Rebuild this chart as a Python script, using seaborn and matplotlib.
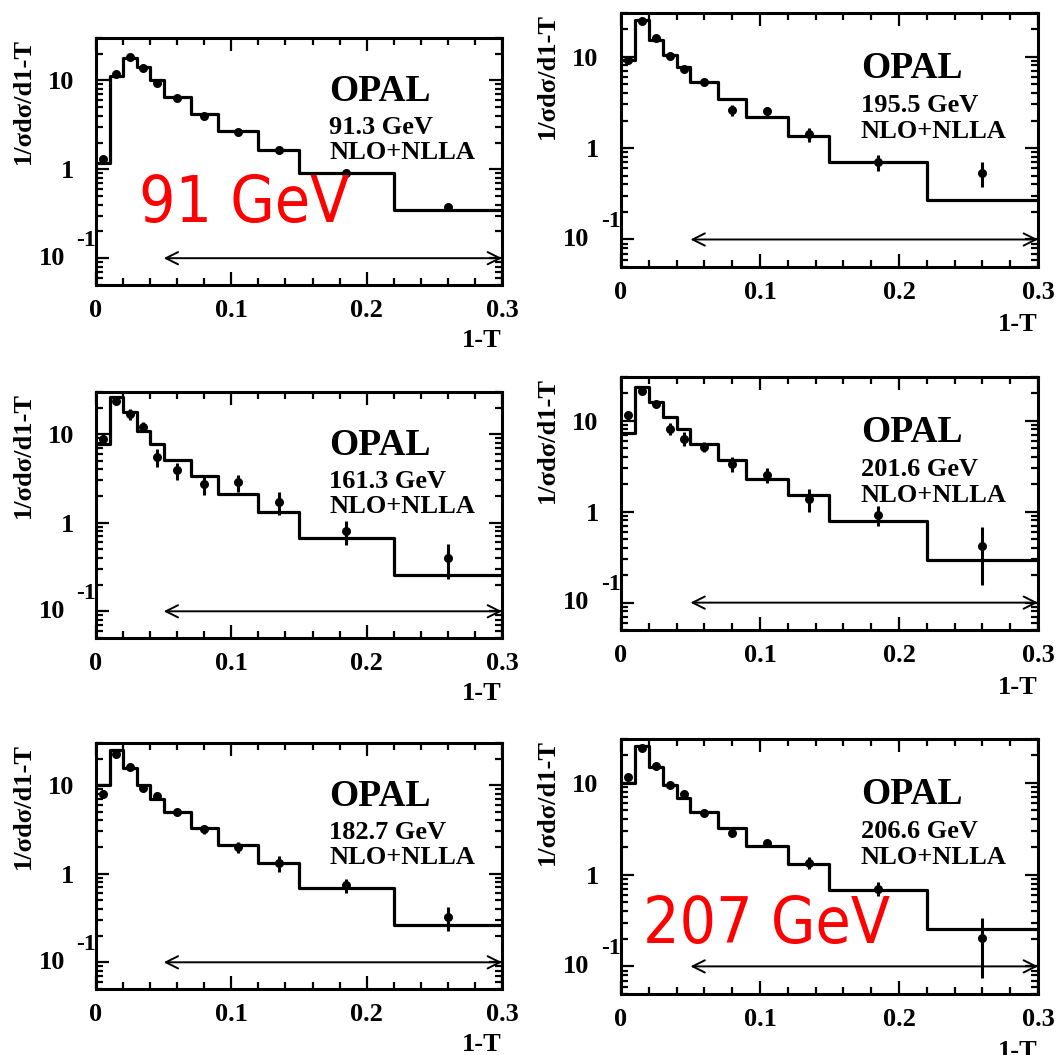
import matplotlib
matplotlib.use("Agg")
import matplotlib.pyplot as plt
import matplotlib.ticker as mticker
import seaborn as sns

# bins in 1-T (edges) and the centres where the OPAL points sit
edges = [0.0, 0.01, 0.02, 0.03, 0.04, 0.05, 0.07, 0.09, 0.12, 0.15, 0.22, 0.30]
centres = [0.005, 0.015, 0.025, 0.035, 0.045, 0.06, 0.08, 0.105, 0.135, 0.185, 0.26]

energies = ["91.3 GeV", "195.5 GeV", "161.3 GeV", "201.6 GeV", "182.7 GeV", "206.6 GeV"]

# NLO+NLLA prediction, one value per bin
theory_913 = [1.17, 11.2, 17.9, 14.1, 10.0, 6.5, 4.24, 2.69, 1.65, 0.90, 0.348]
theory_1955 = [9.1, 25.2, 15.2, 10.3, 7.7, 5.25, 3.43, 2.19, 1.37, 0.71, 0.268]
theory_1613 = [7.66, 26.5, 17.6, 10.9, 7.66, 5.17, 3.34, 2.10, 1.31, 0.675, 0.258]
theory_2016 = [7.36, 23.2, 16.1, 10.8, 8.0, 5.47, 3.67, 2.30, 1.53, 0.79, 0.297]
theory_1827 = [10.0, 24.9, 15.6, 10.0, 7.06, 4.99, 3.32, 2.11, 1.33, 0.695, 0.267]
theory_2066 = [9.9, 25.0, 14.8, 9.5, 6.91, 4.77, 3.19, 2.06, 1.30, 0.674, 0.256]

# OPAL data points and their errors
data_913 = [1.29, 11.9, 18.2, 13.9, 9.3, 6.4, 3.98, 2.64, 1.65, 0.92, 0.38]
err_913 = [0.03, 0.2, 0.3, 0.2, 0.15, 0.1, 0.06, 0.04, 0.03, 0.02, 0.01]
data_1955 = [9.1, 24.6, 16.1, 10.2, 7.24, 5.33, 2.61, 2.55, 1.41, 0.70, 0.538]
err_1955 = [0.8, 1.2, 1.0, 0.7, 0.6, 0.4, 0.35, 0.25, 0.25, 0.14, 0.16]
data_1613 = [8.89, 23.9, 16.8, 12.2, 5.55, 3.91, 2.75, 2.85, 1.73, 0.80, 0.403]
err_1613 = [1.3, 1.0, 2.2, 1.6, 1.3, 0.85, 0.7, 0.65, 0.5, 0.24, 0.17]
data_2016 = [11.5, 21.3, 15.1, 8.15, 6.31, 5.15, 3.37, 2.55, 1.37, 0.918, 0.417]
err_2016 = [1.2, 1.0, 1.2, 1.2, 1.1, 0.65, 0.65, 0.47, 0.38, 0.23, 0.26]
data_1827 = [7.91, 22.4, 16.1, 9.41, 7.57, 5.03, 3.18, 2.0, 1.31, 0.738, 0.326]
err_1827 = [0.8, 0.8, 1.0, 0.8, 0.7, 0.4, 0.35, 0.28, 0.26, 0.13, 0.1]
data_2066 = [11.5, 24.0, 15.1, 9.5, 7.5, 4.66, 2.86, 2.22, 1.34, 0.703, 0.204]
err_2066 = [0.6, 0.8, 0.7, 0.5, 0.4, 0.25, 0.25, 0.15, 0.2, 0.12, 0.13]

theories = [theory_913, theory_1955, theory_1613, theory_2016, theory_1827, theory_2066]
datas = [data_913, data_1955, data_1613, data_2016, data_1827, data_2066]
errs = [err_913, err_1955, err_1613, err_2016, err_1827, err_2066]

# fit range shown by the arrow
fit_lo, fit_hi, fit_y = 0.05, 0.30, 0.1

sns.set_style("ticks")
plt.rcParams["font.family"] = ["Liberation Serif", "DejaVu Serif"]
plt.rcParams["font.weight"] = "bold"
for key in ["text.color", "axes.labelcolor", "xtick.color", "ytick.color", "axes.edgecolor"]:
    plt.rcParams[key] = "black"

fig = plt.figure(figsize=(10.62, 10.55), dpi=100)

rects = [
    (0.0904, 0.7299, 0.3823, 0.2341),
    (0.5847, 0.7469, 0.3927, 0.2408),
    (0.0904, 0.3953, 0.3823, 0.2332),
    (0.5847, 0.4028, 0.3927, 0.2398),
    (0.0904, 0.0626, 0.3823, 0.2332),
    (0.5847, 0.0578, 0.3927, 0.2417),
]

for i in range(6):
    ax = fig.add_axes(rects[i])
    th = theories[i]
    sns.lineplot(x=edges, y=th + [th[-1]], drawstyle="steps-post", color="black",
                 lw=2.3, estimator=None, sort=False, ax=ax)
    ax.errorbar(centres, datas[i], yerr=errs[i], fmt="none", ecolor="black",
                elinewidth=2.2, capsize=0, zorder=4)
    sns.scatterplot(x=centres, y=datas[i], color="black", s=42, linewidth=0,
                    zorder=5, ax=ax)
    ax.annotate("", xy=(fit_hi, fit_y), xytext=(fit_lo, fit_y),
                arrowprops=dict(arrowstyle="<->", lw=1.4, color="black",
                                mutation_scale=22, shrinkA=0, shrinkB=0))

    ax.set_yscale("log")
    ax.set_xlim(0, 0.3)
    ax.set_ylim(0.05, 30)

    ax.xaxis.set_major_locator(mticker.FixedLocator([0, 0.1, 0.2, 0.3]))
    ax.xaxis.set_minor_locator(mticker.MultipleLocator(0.02))
    ax.set_xticklabels(["0", "0.1", "0.2", "0.3"])
    ax.yaxis.set_major_locator(mticker.FixedLocator([0.1, 1, 10]))
    ax.yaxis.set_minor_locator(mticker.LogLocator(subs=range(2, 10)))
    ax.yaxis.set_minor_formatter(mticker.NullFormatter())
    ax.set_yticklabels(["", "1", "10"])

    ax.tick_params(which="both", direction="in", top=True, right=True, width=1.6)
    ax.tick_params(which="major", length=9.5)
    ax.tick_params(which="minor", length=5)
    ax.tick_params(axis="y", pad=16, labelsize=19)
    ax.tick_params(axis="x", pad=10, labelsize=19)
    for lab in ax.get_xticklabels() + ax.get_yticklabels():
        lab.set_fontweight("bold")
    for sp in ax.spines.values():
        sp.set_linewidth(2.2)

    # 10^-1 label drawn the ROOT way
    ax.annotate("10", xy=(0, 0.1), xycoords=("axes fraction", "data"),
                xytext=(-22.5, 0), textcoords="offset points", ha="right",
                va="center", fontsize=19, fontweight="bold")
    ax.annotate("-1", xy=(0, 0.1), xycoords=("axes fraction", "data"),
                xytext=(-14.5, 13), textcoords="offset points", ha="left",
                va="center", fontsize=17, fontweight="bold")

    ax.set_ylabel("1/σdσ/d1-T", fontsize=19, fontweight="bold", loc="top")
    ax.yaxis.set_label_coords(-0.15, 1.0)
    ax.set_xlabel("1-T", fontsize=19, fontweight="bold", loc="right")
    ax.xaxis.set_label_coords(1.0, -0.18)

    ax.text(0.575, 0.745, "OPAL", transform=ax.transAxes, fontsize=27,
            fontweight="bold", va="baseline")
    ax.text(0.575, 0.61, energies[i], transform=ax.transAxes, fontsize=19,
            fontweight="bold", va="baseline")
    ax.text(0.575, 0.508, "NLO+NLLA", transform=ax.transAxes, fontsize=19,
            fontweight="bold", va="baseline")

fig.text(0.131, 0.79, "91 GeV", color="red", fontsize=46, family="DejaVu Sans",
         fontweight="normal", fontstretch="condensed", va="baseline")
fig.text(0.6055, 0.106, "207 GeV", color="red", fontsize=46, family="DejaVu Sans",
         fontweight="normal", fontstretch="condensed", va="baseline")

fig.savefig("out.png", dpi=100)
